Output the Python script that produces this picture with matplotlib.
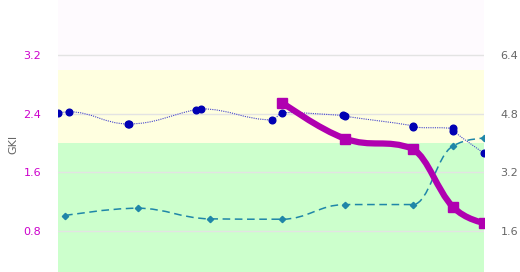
import numpy as np
import matplotlib.pyplot as plt
from matplotlib.path import Path
from matplotlib.patches import PathPatch

# day index of each reading
glucose_days = [0, 0.8, 4.9, 5.0, 9.7, 10.1, 15.1, 15.8, 20.1, 20.2, 25.0, 25.0, 27.8, 27.8, 30.0]
glucose = [4.82, 4.85, 4.52, 4.52, 4.91, 4.93, 4.63, 4.83, 4.75, 4.73, 4.47, 4.43, 4.40, 4.34, 3.72]

ketone_days = [0.5, 5.6, 10.7, 15.8, 20.2, 25.0, 27.8, 30.0]
ketones = [2.02, 2.22, 1.93, 1.92, 2.32, 2.32, 3.91, 4.13]

gki_days = [15.8, 20.2, 25.0, 27.8, 30.0]
gki = [2.55, 2.06, 1.92, 1.13, 0.91]

left_ticks = [0.8, 1.6, 2.4, 3.2]
right_ticks = [1.6, 3.2, 4.8, 6.4]


def spline_path(xs, ys, smoothing=1.5):
    # highcharts-style spline: cubic beziers with colinear control points
    n = len(xs)
    conts = []
    for i in range(n):
        if i == 0 or i == n - 1:
            conts.append((xs[i], ys[i], xs[i], ys[i]))
            continue
        x, y = xs[i], ys[i]
        lx, ly = xs[i - 1], ys[i - 1]
        nx, ny = xs[i + 1], ys[i + 1]
        d = smoothing + 1
        lcx = (smoothing * x + lx) / d
        lcy = (smoothing * y + ly) / d
        rcx = (smoothing * x + nx) / d
        rcy = (smoothing * y + ny) / d
        if rcx != lcx:
            corr = (rcy - lcy) * (rcx - x) / (rcx - lcx) + y - rcy
            lcy += corr
            rcy += corr
        if lcy > ly and lcy > y:
            lcy = max(ly, y)
            rcy = 2 * y - lcy
        elif lcy < ly and lcy < y:
            lcy = min(ly, y)
            rcy = 2 * y - lcy
        if rcy > ny and rcy > y:
            rcy = max(ny, y)
            lcy = 2 * y - rcy
        elif rcy < ny and rcy < y:
            rcy = min(ny, y)
            lcy = 2 * y - rcy
        conts.append((lcx, lcy, rcx, rcy))
    verts = [(xs[0], ys[0])]
    codes = [Path.MOVETO]
    for i in range(1, n):
        verts += [(conts[i - 1][2], conts[i - 1][3]), (conts[i][0], conts[i][1]), (xs[i], ys[i])]
        codes += [Path.CURVE4] * 3
    return Path(verts, codes)


fig = plt.figure(figsize=(5.2, 2.72), dpi=100)
ax = fig.add_axes([58 / 520, 0, 426 / 520, 1])
ax2 = ax.twinx()

ax.set_xlim(0, 30)
ax.set_ylim(0.24, 3.95)
ax2.set_ylim(0.48, 7.9)

# GKI zones
ax.axhspan(0, 2.0, color='#ccffcc', zorder=0, lw=0)
ax.axhspan(2.0, 3.0, color='#ffffe0', zorder=0, lw=0)
ax.axhspan(3.0, 5.0, color='#fefafe', zorder=0, lw=0)
for t in left_ticks:
    ax.axhline(t, color='#e3e3e3', lw=1, zorder=1)

ax.set_yticks(left_ticks)
ax.set_yticklabels([str(t) for t in left_ticks])
ax.tick_params(axis='y', length=0, labelcolor='#cc00cc', labelsize=8, pad=12)
ax.set_ylabel('GKI', color='#666666', fontsize=8)
ax.yaxis.set_label_coords(-0.094, 0.47)
ax.set_xticks([])
ax2.set_yticks(right_ticks)
ax2.set_yticklabels([str(t) for t in right_ticks])
ax2.tick_params(axis='y', length=0, labelcolor='#666666', labelsize=8, pad=12)
for a in (ax, ax2):
    for s in a.spines.values():
        s.set_visible(False)

ax2.add_patch(PathPatch(spline_path(glucose_days, glucose), fill=False,
                        edgecolor='#4444cc', lw=0.8, ls=(0, (1, 1)), zorder=3))
ax2.plot(glucose_days, glucose, 'o', color='#0000b3', ms=4.8, zorder=4)

ax2.add_patch(PathPatch(spline_path(ketone_days, ketones), fill=False,
                        edgecolor='#1f86a8', lw=1.1, ls=(0, (5, 3)), zorder=3))
ax2.plot(ketone_days, ketones, 'D', color='#1f86a8', ms=3.2, zorder=4)

ax2.add_patch(PathPatch(spline_path(gki_days, [g * 2 for g in gki]), fill=False,
                        edgecolor='#b000b0', lw=4.5, capstyle='round', zorder=5))
ax2.plot(gki_days, [g * 2 for g in gki], 's', color='#b000b0', ms=7, zorder=6)

fig.savefig('out.png', dpi=100)
